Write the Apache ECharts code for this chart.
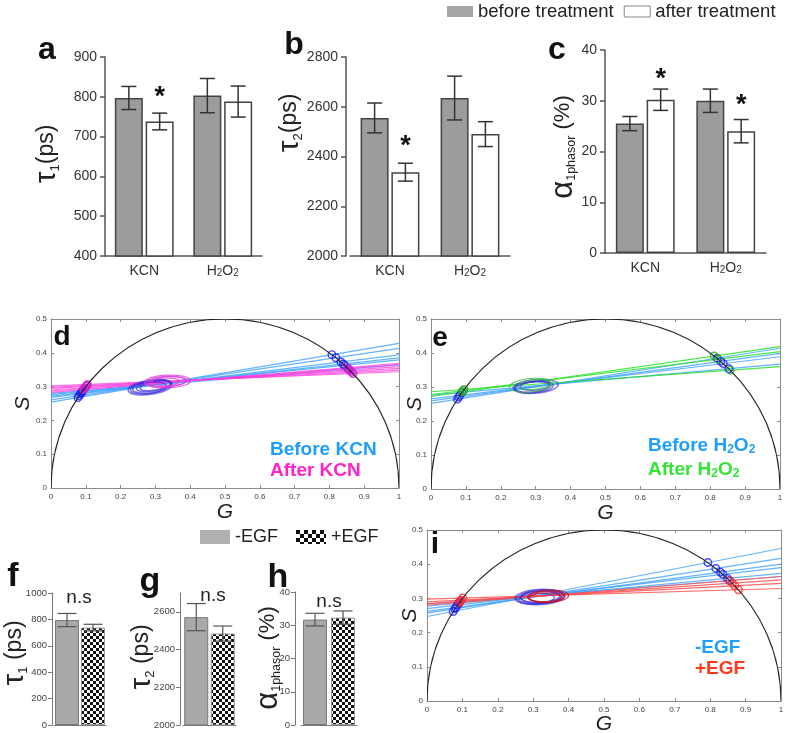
<!DOCTYPE html>
<html><head><meta charset="utf-8">
<script src="https://cdn.jsdelivr.net/npm/echarts@6/dist/echarts.min.js"></script>
<style>html,body{margin:0;padding:0;background:#fff}#c{width:787px;height:733px}</style>
</head><body><div id="c"></div><script>
const FONT = '"Liberation Sans", Arial, Helvetica, sans-serif';

// ---------- panels a-c ----------
const treatCats = ['KCN', 'H2O2'];
const tau1Before = [797, 803];
const tau1BeforeSd = [29, 43];
const tau1After = [738, 788];
const tau1AfterSd = [21, 39];
const tau1Range = [400, 900, 100];
const tau1Stars = [[0, 812]];

const tau2Before = [2555, 2635];
const tau2BeforeSd = [60, 88];
const tau2After = [2337, 2490];
const tau2AfterSd = [36, 50];
const tau2Range = [2000, 2800, 200];
const tau2Stars = [[0, 2465]];

const alphaBefore = [25.5, 30.0];
const alphaBeforeSd = [1.4, 2.3];
const alphaAfter = [30.2, 24.0];
const alphaAfterSd = [2.1, 2.3];
const alphaRange = [0, 40, 10];
const alphaStars = [[0, 35.3], [1, 30.2]];

// ---------- panels f-h ----------
const egfCats = ['-EGF', '+EGF'];
const egfTau1 = [795, 738];
const egfTau1Sd = [50, 25];
const egfTau1Range = [0, 1000, 200];
const egfTau2 = [2572, 2485];
const egfTau2Sd = [72, 40];
const egfTau2Range = [2000, 2700, 200];
const egfTau2Ticks = [2000, 2200, 2400, 2600];
const egfAlpha = [31.7, 32.3];
const egfAlphaSd = [1.9, 2.0];
const egfAlphaRange = [0, 40, 10];

// ---------- phasor panels: lines as [S at G=0, S at G=1] ----------
const kcnBeforeLines = [[0.254, 0.428], [0.261, 0.413], [0.268, 0.394], [0.272, 0.385], [0.276, 0.379], [0.280, 0.364]];
const kcnAfterLines = [[0.302, 0.344], [0.298, 0.349], [0.295, 0.354], [0.290, 0.359], [0.287, 0.365], [0.283, 0.369]];
const h2o2BeforeLines = [[0.252, 0.414], [0.259, 0.399], [0.265, 0.389], [0.276, 0.367]];
const h2o2AfterLines = [[0.286, 0.360], [0.278, 0.404], [0.272, 0.419]];
const egfMinusLines = [[0.247, 0.446], [0.257, 0.417], [0.262, 0.400], [0.270, 0.390], [0.277, 0.373], [0.283, 0.364]];
const egfPlusLines = [[0.298, 0.329], [0.290, 0.344], [0.285, 0.354], [0.280, 0.364]];

// ellipses: [centre G, centre S, semi-axis G, semi-axis S, tilt deg]
const kcnBeforeEll = [[0.285, 0.298, 0.064, 0.021, 8], [0.290, 0.300, 0.056, 0.018, 8], [0.295, 0.302, 0.050, 0.015, 10], [0.300, 0.303, 0.045, 0.013, 10], [0.280, 0.296, 0.052, 0.017, 6]];
const kcnAfterEll = [[0.335, 0.315, 0.066, 0.019, 2], [0.330, 0.314, 0.056, 0.016, 3], [0.340, 0.316, 0.050, 0.014, 2], [0.325, 0.313, 0.045, 0.012, 4]];
const h2o2BeforeEll = [[0.300, 0.302, 0.065, 0.020, 5], [0.295, 0.300, 0.055, 0.017, 5], [0.290, 0.300, 0.050, 0.015, 5], [0.300, 0.304, 0.045, 0.013, 5]];
const h2o2AfterEll = [[0.285, 0.305, 0.060, 0.020, 5], [0.300, 0.308, 0.050, 0.014, 8]];
const egfMinusEll = [[0.318, 0.304, 0.070, 0.022, 3], [0.315, 0.302, 0.062, 0.019, 3], [0.320, 0.305, 0.055, 0.017, 3], [0.310, 0.300, 0.050, 0.015, 3], [0.325, 0.306, 0.060, 0.020, 3]];
const egfPlusEll = [[0.338, 0.305, 0.052, 0.016, 2], [0.335, 0.303, 0.045, 0.013, 2], [0.342, 0.306, 0.058, 0.018, 2]];
const universalCircle = [[0.5, 0, 0.5]];

// ---------------------------------------------------------------
const grids = [], xAxes = [], yAxes = [], series = [];
function addGrid(r) { grids.push(Object.assign({ outerBoundsMode: 'none', containLabel: false }, r)); return grids.length - 1; }
const plain = v => String(v);

function checker(size) {
  const c = document.createElement('canvas');
  c.width = c.height = size * 2;
  const ctx = c.getContext('2d');
  ctx.fillStyle = '#fff'; ctx.fillRect(0, 0, size * 2, size * 2);
  ctx.fillStyle = '#111'; ctx.fillRect(0, 0, size, size); ctx.fillRect(size, size, size, size);
  return c;
}
const checkBar = { image: checker(3), repeat: 'repeat' };
const checkLegend = { image: checker(4), repeat: 'repeat' };

const subRich = (fs, pad, color) => ({ s: { fontSize: fs, lineHeight: fs, padding: [pad, 0, 0, 0], verticalAlign: 'bottom', fontFamily: FONT, color: color } });
const chem = v => v.replace(/(\d)/g, '{s|$1}');

function errSeries(xi, yi, vals, sds, dx, cap, color, lw) {
  return {
    type: 'custom', xAxisIndex: xi, yAxisIndex: yi, z: 5, silent: true,
    data: vals.map((v, i) => [i, v - sds[i], v + sds[i]]),
    renderItem: (p, api) => {
      const lo = api.coord([api.value(0), api.value(1)]);
      const hi = api.coord([api.value(0), api.value(2)]);
      const x = lo[0] + dx;
      const st = { stroke: color, lineWidth: lw };
      return { type: 'group', children: [
        { type: 'line', shape: { x1: x, y1: lo[1], x2: x, y2: hi[1] }, style: st },
        { type: 'line', shape: { x1: x - cap / 2, y1: lo[1], x2: x + cap / 2, y2: lo[1] }, style: st },
        { type: 'line', shape: { x1: x - cap / 2, y1: hi[1], x2: x + cap / 2, y2: hi[1] }, style: st }
      ] };
    }
  };
}
function starSeries(xi, yi, stars, dx) {
  return {
    type: 'custom', xAxisIndex: xi, yAxisIndex: yi, z: 6, silent: true, data: stars,
    renderItem: (p, api) => {
      const c = api.coord([api.value(0), api.value(1)]);
      return { type: 'text', x: c[0] + dx, y: c[1] + 6, style: { text: '*', fontSize: 27, fontWeight: 'bold', fontFamily: FONT, fill: '#111', align: 'center', verticalAlign: 'middle' } };
    }
  };
}

function addTreatPanel(rect, yr, before, beforeSd, after, afterSd, stars, yOffset) {
  const gi = addGrid(rect);
  const line = { color: '#555', width: 1.5 };
  const xi = xAxes.push({ gridIndex: gi, type: 'category', data: treatCats,
    axisLine: { onZero: false, lineStyle: line }, axisTick: { alignWithLabel: true, interval: 0, length: 5, lineStyle: line },
    axisLabel: { interval: 0, hideOverlap: false, margin: 8, fontSize: 14, color: '#333', fontFamily: FONT, formatter: chem, rich: subRich(10, 13, '#333') } }) - 1;
  const yi = yAxes.push({ gridIndex: gi, type: 'value', min: yr[0], max: yr[1], interval: yr[2], offset: yOffset || 0,
    axisLine: { show: true, onZero: false, lineStyle: line }, axisTick: { show: true, length: 5, lineStyle: line },
    splitLine: { show: false }, axisLabel: { margin: 8, fontSize: 14, color: '#333', fontFamily: FONT, formatter: plain } }) - 1;
  series.push({ type: 'bar', name: 'before treatment', xAxisIndex: xi, yAxisIndex: yi, data: before, barWidth: 28, barGap: '10%',
    itemStyle: { color: '#9c9c9c', borderColor: '#444', borderWidth: 1.5 }, silent: true });
  series.push({ type: 'bar', name: 'after treatment', xAxisIndex: xi, yAxisIndex: yi, data: after, barWidth: 28, barGap: '10%',
    itemStyle: { color: '#fff', borderColor: '#444', borderWidth: 1.5 }, silent: true });
  series.push(errSeries(xi, yi, before, beforeSd, -15.4, 15, '#333', 1.5));
  series.push(errSeries(xi, yi, after, afterSd, 15.4, 15, '#333', 1.5));
  series.push(starSeries(xi, yi, stars, 15.4));
}

function addEgfPanel(rect, yr, vals, sds, yOffset, ticks) {
  const gi = addGrid(rect);
  const line = { color: '#777', width: 1 };
  const xi = xAxes.push({ gridIndex: gi, type: 'category', data: egfCats,
    axisLine: { onZero: false, lineStyle: line }, axisTick: { alignWithLabel: true, interval: 0, length: 4, lineStyle: line },
    axisLabel: { show: false } }) - 1;
  const yAx = { gridIndex: gi, type: 'value', min: yr[0], max: yr[1], interval: yr[2], offset: yOffset || 0,
    axisLine: { show: true, onZero: false, lineStyle: line }, axisTick: { show: true, length: 4, lineStyle: line },
    splitLine: { show: false }, axisLabel: { margin: 5, fontSize: 9.5, color: '#444', fontFamily: FONT, formatter: plain } };
  if (ticks) { yAx.axisLabel.customValues = ticks; yAx.axisTick.customValues = ticks; }
  const yi = yAxes.push(yAx) - 1;
  series.push({ type: 'bar', name: '-EGF', xAxisIndex: xi, yAxisIndex: yi, data: [vals[0], '-'], barWidth: 24, barGap: '-100%',
    itemStyle: { color: '#a9a9a9', borderColor: '#777', borderWidth: 1 }, silent: true });
  series.push({ type: 'bar', name: '+EGF', xAxisIndex: xi, yAxisIndex: yi, data: ['-', vals[1]], barWidth: 24, barGap: '-100%',
    itemStyle: { color: checkBar, borderColor: '#999', borderWidth: 1 }, silent: true });
  series.push(errSeries(xi, yi, vals, sds, 0, 19, '#555', 1.2));
}

function circleHits(a, b) {
  const m = b - a, A = 1 + m * m, B = 2 * a * m - 1, C = a * a;
  const d = Math.sqrt(B * B - 4 * A * C);
  return [(-B - d) / (2 * A), (-B + d) / (2 * A)].map(g => [g, a + m * g]);
}
function ellipseRender(color, width) {
  return (p, api) => {
    const c = api.coord([api.value(0), api.value(1)]);
    const s = api.size([api.value(2) * 2, api.value(3) * 2]);
    return { type: 'ellipse', x: c[0], y: c[1], rotation: api.value(4) * Math.PI / 180,
      shape: { cx: 0, cy: 0, rx: s[0] / 2, ry: s[1] / 2 }, style: { fill: 'none', stroke: color, lineWidth: width } };
  };
}
function circleRender(p, api) {
  const c = api.coord([api.value(0), api.value(1)]);
  const s = api.size([api.value(2) * 2, api.value(2) * 2]);
  return { type: 'ellipse', shape: { cx: c[0], cy: c[1], rx: s[0] / 2, ry: s[1] / 2 }, style: { fill: 'none', stroke: '#222', lineWidth: 1.1 } };
}

function addPhasor(rect, sGap, gGap, groups) {
  const gi = addGrid(rect);
  const axLine = { show: true, onZero: false, lineStyle: { color: '#8c8c8c', width: 1 } };
  const tick = { show: true, inside: true, length: 3, lineStyle: { color: '#8c8c8c' } };
  const nameStyle = { fontSize: 21, fontStyle: 'italic', color: '#222', fontFamily: FONT };
  const xi = xAxes.push({ gridIndex: gi, type: 'value', position: 'bottom', min: 0, max: 1, interval: 0.1, axisLine: axLine, axisTick: tick,
    splitLine: { show: false }, axisLabel: { fontSize: 8, color: '#444', margin: 5, fontFamily: FONT },
    name: 'G', nameLocation: 'middle', nameGap: gGap, nameMoveOverlap: false, nameTextStyle: nameStyle }) - 1;
  xAxes.push({ gridIndex: gi, type: 'value', position: 'top', min: 0, max: 1, interval: 0.1, axisLine: axLine, axisTick: tick,
    splitLine: { show: false }, axisLabel: { show: false } });
  const yi = yAxes.push({ gridIndex: gi, type: 'value', position: 'left', min: 0, max: 0.5, interval: 0.1, axisLine: axLine, axisTick: tick,
    splitLine: { show: false }, axisLabel: { fontSize: 8, color: '#444', margin: 4, fontFamily: FONT },
    name: 'S', nameLocation: 'middle', nameRotate: 90, nameGap: sGap, nameMoveOverlap: false, nameTextStyle: nameStyle }) - 1;
  yAxes.push({ gridIndex: gi, type: 'value', position: 'right', min: 0, max: 0.5, interval: 0.1, axisLine: axLine, axisTick: tick,
    splitLine: { show: false }, axisLabel: { show: false } });
  groups.forEach(g => {
    g.lines.forEach(l => series.push({ type: 'line', xAxisIndex: xi, yAxisIndex: yi, data: [[0, l[0]], [1, l[1]]], symbol: 'none',
      silent: true, z: 2, lineStyle: { color: g.lineColor, width: 1.2 } }));
  });
  groups.forEach(g => {
    series.push({ type: 'custom', xAxisIndex: xi, yAxisIndex: yi, data: g.ellipses, renderItem: ellipseRender(g.ellColor, g.ellWidth), z: 3, silent: true });
  });
  groups.forEach(g => {
    const pts = [];
    g.lines.forEach(l => circleHits(l[0], l[1]).forEach(pt => pts.push(pt)));
    series.push({ type: 'scatter', xAxisIndex: xi, yAxisIndex: yi, data: pts, symbol: 'circle', symbolSize: 7.5, silent: true, z: 4,
      itemStyle: { color: 'rgba(0,0,0,0)', borderColor: g.markColor, borderWidth: 1.4 } });
  });
  series.push({ type: 'custom', xAxisIndex: xi, yAxisIndex: yi, data: universalCircle, renderItem: circleRender, clip: true, z: 5, silent: true });
}

// ---- build ----
addTreatPanel({ left: 105, top: 57, width: 157, height: 199 }, tau1Range, tau1Before, tau1BeforeSd, tau1After, tau1AfterSd, tau1Stars, 0);
addTreatPanel({ left: 350, top: 57, width: 160, height: 199 }, tau2Range, tau2Before, tau2BeforeSd, tau2After, tau2AfterSd, tau2Stars, 4);
addTreatPanel({ left: 605, top: 50, width: 161, height: 203 }, alphaRange, alphaBefore, alphaBeforeSd, alphaAfter, alphaAfterSd, alphaStars, 0);

const BLUE_LINE = 'rgba(60,160,255,0.8)', BLUE_MARK = '#1a1aff', BLUE_ELL = 'rgba(55,45,215,0.65)';
addPhasor({ left: 51, top: 319, width: 348, height: 169 }, 17, 14, [
  { lines: kcnBeforeLines, ellipses: kcnBeforeEll, lineColor: BLUE_LINE, markColor: BLUE_MARK, ellColor: BLUE_ELL, ellWidth: 1.5 },
  { lines: kcnAfterLines, ellipses: kcnAfterEll, lineColor: 'rgba(255,60,220,0.75)', markColor: '#d020d0', ellColor: 'rgba(220,60,220,0.75)', ellWidth: 1.3 }
]);
addPhasor({ left: 431, top: 319, width: 349, height: 170 }, 5, 14, [
  { lines: h2o2BeforeLines, ellipses: h2o2BeforeEll, lineColor: BLUE_LINE, markColor: BLUE_MARK, ellColor: BLUE_ELL, ellWidth: 1.5 },
  { lines: h2o2AfterLines, ellipses: h2o2AfterEll, lineColor: 'rgba(40,225,40,0.85)', markColor: '#22aa22', ellColor: 'rgba(60,200,60,0.85)', ellWidth: 1 }
]);
addPhasor({ left: 427, top: 530, width: 354, height: 171 }, 6, 13, [
  { lines: egfMinusLines, ellipses: egfMinusEll, lineColor: BLUE_LINE, markColor: BLUE_MARK, ellColor: BLUE_ELL, ellWidth: 1.5 },
  { lines: egfPlusLines, ellipses: egfPlusEll, lineColor: 'rgba(255,70,70,0.8)', markColor: '#ff2a2a', ellColor: 'rgba(190,20,50,0.8)', ellWidth: 1.3 }
]);

addEgfPanel({ left: 54, top: 593, width: 52, height: 132 }, egfTau1Range, egfTau1, egfTau1Sd, 2, null);
addEgfPanel({ left: 183, top: 593, width: 53, height: 132 }, egfTau2Range, egfTau2, egfTau2Sd, 3, egfTau2Ticks);
addEgfPanel({ left: 301, top: 592, width: 56, height: 133 }, egfAlphaRange, egfAlpha, egfAlphaSd, 6, null);

// ---- text ----
const letter = (t, x, y, fs) => ({ type: 'text', x, y, silent: true, style: { text: t, fontSize: fs, fontWeight: 'bold', fontFamily: FONT, fill: '#111', align: 'center', verticalAlign: 'middle' } });
const tauRich = { t: { fontSize: 30, fontFamily: FONT, fill: '#222' }, s: { fontSize: 13, lineHeight: 13, padding: [12, 0, 0, 0], verticalAlign: 'bottom', fontFamily: FONT, fill: '#222' }, p: { fontSize: 23, fontFamily: FONT, fill: '#222' } };
const alphaRich = { t: { fontSize: 31, fontFamily: FONT, fill: '#222' }, s: { fontSize: 12.5, lineHeight: 12, padding: [12, 0, 0, 0], verticalAlign: 'bottom', fontFamily: FONT, fill: '#222' }, p: { fontSize: 22, fontFamily: FONT, fill: '#222' } };
const vTitle = (text, rich, x, y) => ({ type: 'text', x, y, rotation: Math.PI / 2, silent: true, style: { text, rich, align: 'center', verticalAlign: 'middle', fill: '#222', fontFamily: FONT } });
const colorText = (text, color, x, y) => ({ type: 'text', x, y, silent: true, style: { text, fill: color, fontSize: 19, fontWeight: 'bold', fontFamily: FONT, align: 'left', verticalAlign: 'middle',
  rich: { s: { fontSize: 12, lineHeight: 12, padding: [10, 0, 0, 0], verticalAlign: 'bottom', fill: color, fontWeight: 'bold', fontFamily: FONT } } } });
const nsText = (x, y) => ({ type: 'text', x, y, silent: true, style: { text: 'n.s', fontSize: 19, fontFamily: FONT, fill: '#222', align: 'center', verticalAlign: 'middle' } });

const graphics = [
  letter('a', 47, 50, 32), letter('b', 294, 45, 32), letter('c', 557, 50, 32),
  letter('d', 62, 337, 28), letter('e', 440, 338, 28), letter('i', 435, 545, 30),
  letter('f', 13, 577, 34), letter('g', 150, 582, 34), letter('h', 278, 578, 34),
  vTitle('{t|τ}{s|1}{p|(ps)}', tauRich, 47, 154),
  vTitle('{t|τ}{s|2}{p|(ps)}', tauRich, 290, 123),
  vTitle('{t|α}{s|1phasor}{p| (%)}', alphaRich, 563, 147),
  vTitle('{t|τ}{s|1}{p| (ps)}', tauRich, 15, 653),
  vTitle('{t|τ}{s|2}{p| (ps)}', tauRich, 142, 657),
  vTitle('{t|α}{s|1phasor}{p| (%)}', alphaRich, 268, 658),
  colorText('Before KCN', '#1e9fff', 270, 450),
  colorText('After KCN', '#ff22cc', 270, 471),
  colorText('Before H{s|2}O{s|2}', '#1e9fff', 648, 446),
  colorText('After H{s|2}O{s|2}', '#33e633', 648, 470),
  colorText('-EGF', '#1e9fff', 695, 648),
  colorText('+EGF', '#ff3a1a', 695, 669),
  nsText(79, 598), nsText(213, 596), nsText(329, 602)
];

const chart = echarts.init(document.getElementById('c'), null, { renderer: 'canvas' });
chart.setOption({
  animation: false,
  backgroundColor: '#fff',
  textStyle: { fontFamily: FONT },
  grid: grids, xAxis: xAxes, yAxis: yAxes, series,
  legend: [
    { left: 447, top: 2, padding: 0, itemWidth: 26, itemHeight: 11, itemGap: 10, icon: 'rect',
      data: [{ name: 'before treatment', itemStyle: { color: '#a6a6a6', borderWidth: 0 } }, { name: 'after treatment', itemStyle: { color: '#fff', borderColor: '#888', borderWidth: 1 } }],
      textStyle: { fontSize: 18.5, color: '#222', fontFamily: FONT } },
    { left: 200, top: 528, padding: 0, itemWidth: 30, itemHeight: 14, itemGap: 18, icon: 'rect',
      data: [{ name: '-EGF', itemStyle: { color: '#b0b0b0', borderWidth: 0 } }, { name: '+EGF', itemStyle: { color: checkLegend, borderWidth: 0 } }],
      textStyle: { fontSize: 18, color: '#222', fontFamily: FONT } }
  ],
  graphic: graphics
});
</script></body></html>
